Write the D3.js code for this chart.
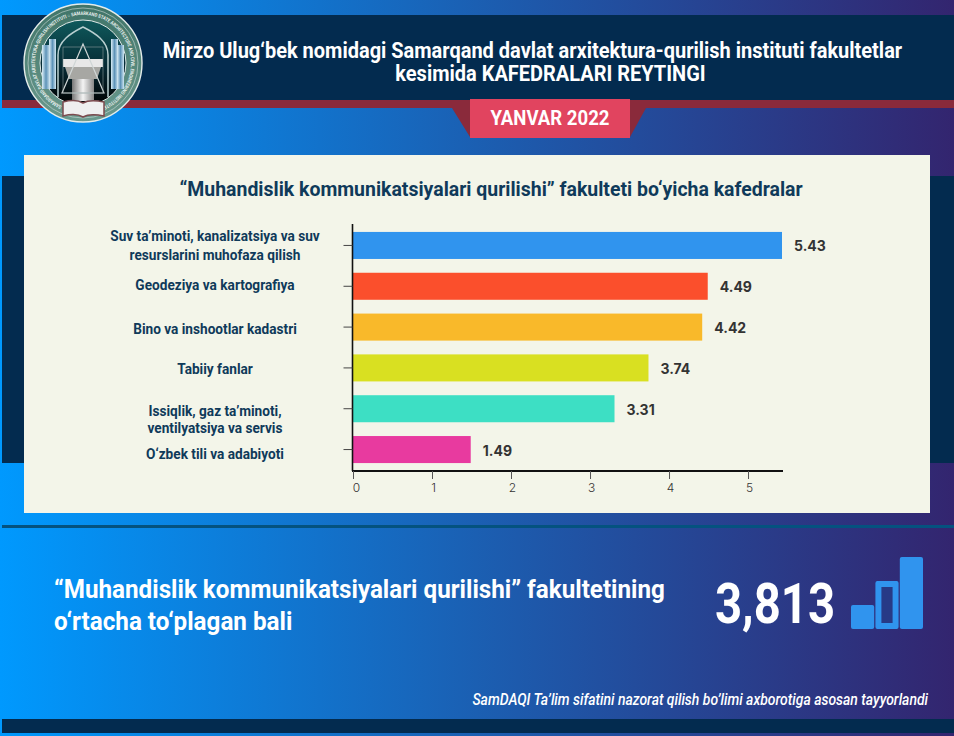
<!DOCTYPE html>
<html><head><meta charset="utf-8">
<script src="https://cdn.jsdelivr.net/npm/d3@7"></script>
<style>html,body{margin:0;padding:0;background:#fff}svg{display:block}</style>
</head><body><div id="c"></div>
<script>
const categories = [
  ["Suv ta\u02bcminoti, kanalizatsiya va suv","resurslarini muhofaza qilish"],
  ["Geodeziya va kartografiya"],
  ["Bino va inshootlar kadastri"],
  ["Tabiiy fanlar"],
  ["Issiqlik, gaz ta\u02bcminoti,","ventilyatsiya va servis"],
  ["O\u2018zbek tili va adabiyoti"]
];
const values = [5.43,4.49,4.42,3.74,3.31,1.49];
const barColors = ["#3094ee","#fb4f2c","#f9b92a","#d9e021","#3ddfc4","#e83a9f"];
const xTicks = [0,1,2,3,4,5];
const miniBars = [1,2,3];
const W=954,H=736;
const svg=d3.select("#c").append("svg").attr("width",W).attr("height",H);
const defs=svg.append("defs");
const g=defs.append("linearGradient").attr("id","bg");
[[0,"#0099fe"],[0.5,"#1b5fb2"],[1,"#33256f"]].forEach(s=>g.append("stop").attr("offset",s[0]).attr("stop-color",s[1]));
const grad=(id,stops,v)=>{const l=defs.append("linearGradient").attr("id",id).attr("x1",0).attr("y1",0).attr("x2",v?0:1).attr("y2",v?1:0);
  stops.forEach(s=>l.append("stop").attr("offset",s[0]).attr("stop-color",s[1]));};
grad("ring",[[0,"#3f7468"],[1,"#6b9a8e"]],true);
grad("inner",[[0,"#0f5a5c"],[0.55,"#062a34"],[1,"#000"]],true);
grad("tower",[[0,"#dbeef6"],[0.5,"#5d93b8"],[1,"#cfe6f2"]]);
grad("col",[[0,"#777"],[0.5,"#f4f4f4"],[1,"#888"]]);
const rect=(x,y,w,h,f,r)=>svg.append("rect").attr("x",x).attr("y",y).attr("width",w).attr("height",h).attr("fill",f).attr("rx",r||0);
function txt(x,y,s,size,weight,fill,cond,anchor,font,style){
  return svg.append("text").attr("transform",`translate(${x},${y}) scale(${cond||1},1)`)
   .attr("font-family",font||"Roboto").attr("font-size",size).attr("font-weight",weight)
   .attr("font-style",style||"normal").attr("fill",fill).attr("text-anchor",anchor||"middle").text(s);
}
// background
rect(0,0,W,H,"url(#bg)");
rect(2,15,W-2,85,"#032b4f");
rect(2,100,W-2,8,"#8a2a3b");
rect(2,176,W-2,287,"#032b4f");
rect(2,719,W-2,14,"#032b4f");
rect(2,525,W-2,3,"#04527f");
// ribbon
svg.append("path").attr("d","M452,108 L470,108 L470,137 Z M646,108 L630,108 L630,137 Z").attr("fill","#8a2a3b");
rect(470,99,160,39,"#e1445f");
txt(550,124.5,"YANVAR 2022",20,700,"#fff",0.93);
// title
txt(532.5,57.5,"Mirzo Ulug\u2018bek nomidagi Samarqand davlat arxitektura-qurilish instituti fakultetlar",21.5,700,"#fff",0.93);
txt(550.5,80.5,"kesimida KAFEDRALARI REYTINGI",21.5,700,"#fff",0.93);
// logo
const L=svg.append("g").attr("transform","translate(83,63)");
L.append("circle").attr("r",59).attr("fill","url(#ring)").attr("stroke","#e4ecea").attr("stroke-width",1.4);
L.append("circle").attr("r",55).attr("fill","none").attr("stroke","#cfdcd8").attr("stroke-width",0.6);
L.append("circle").attr("r",43).attr("fill","url(#inner)").attr("stroke","#dfe8e6").attr("stroke-width",1);
defs.append("path").attr("id","lp").attr("d","M0,48 A48,48 0 1 1 0,-48 A48,48 0 1 1 0,48");
L.append("text").attr("font-family","Roboto").attr("font-size",5).attr("font-weight",700).attr("fill","#e8f0ee")
 .append("textPath").attr("href","#lp").attr("startOffset",22).attr("textLength",258).attr("lengthAdjust","spacingAndGlyphs")
 .text("SAMARQAND DAVLAT ARXITEKTURA-QURILISH INSTITUTI \u25CB SAMARKAND STATE ARCHITECTURE AND CIVIL ENGINEERING INSTITUTE");
[[-41,-18,8,44],[-34,-24,7,50],[28,-24,7,50],[34,-18,7,44]].forEach(d=>L.append("rect").attr("x",d[0]).attr("y",d[1]).attr("width",d[2]).attr("height",d[3]).attr("fill","url(#tower)"));
L.append("path").attr("d","M-25,34 V-8 C-25,-22 -12,-30 0,-36 C12,-30 25,-22 25,-8 V34").attr("fill","none").attr("stroke","#b9cfd0").attr("stroke-width",1.5);
L.append("rect").attr("x",-20).attr("y",-4).attr("width",40).attr("height",8).attr("fill","#e8e8e8");
L.append("path").attr("d","M-18,4 H18 L14,16 H-14 Z").attr("fill","#a7a7a3");
L.append("rect").attr("x",-11).attr("y",16).attr("width",22).attr("height",22).attr("fill","url(#col)");
L.append("path").attr("d","M0,-19 L-21,30 L21,30 Z").attr("fill","none").attr("stroke","#d0d6d6").attr("stroke-width",1.2);
L.append("rect").attr("x",-20).attr("y",-16).attr("width",40).attr("height",46).attr("fill","none").attr("stroke","#8a9a9c").attr("stroke-width",0.6);
L.append("path").attr("d","M-20,39 C-12,37 -5,37 0,40 C5,37 12,37 21,39 V53 C12,51 5,51 0,54 C-5,51 -12,51 -20,53 Z").attr("fill","#efefef").attr("stroke","#7d4a4e").attr("stroke-width",1.5);
// card
rect(24,155,906,358,"#f3f5e9");
txt(491,196,"\u201cMuhandislik kommunikatsiyalari qurilishi\u201d fakulteti bo\u2018yicha kafedralar",21,700,"#0f3a5a",0.927);
// chart
const x=d3.scaleLinear().domain([0,5.43]).range([353,782]);
const y=d3.scaleBand().domain(d3.range(values.length)).range([225,470]).paddingInner(0.338).paddingOuter(0.17);
svg.selectAll(".bar").data(values).join("rect").attr("class","bar")
 .attr("x",x(0)).attr("y",(d,i)=>y(i)).attr("width",d=>x(d)-x(0)).attr("height",y.bandwidth())
 .attr("fill",(d,i)=>barColors[i]);
const xa=svg.append("g").attr("transform","translate(0,471)").call(d3.axisBottom(x).tickValues(xTicks).tickFormat(d3.format("d")).tickSize(8).tickPadding(4));
xa.select(".domain").attr("d","M352,0H783").attr("stroke","#111").attr("stroke-width",2);
xa.selectAll("line").attr("stroke","#555");
xa.selectAll("text").attr("font-family","Inter").attr("font-size",12).attr("font-weight",300).attr("fill","#333").attr("dx",d=>d===0?3:1);
const ya=svg.append("g").attr("transform","translate(352.5,0)").call(d3.axisLeft(y).tickFormat("").tickSize(9));
ya.select(".domain").attr("d","M0,224V471").attr("stroke","#111").attr("stroke-width",1.6);
ya.selectAll("line").attr("stroke","#444");
values.forEach((v,i)=>txt(x(v)+12,y(i)+y.bandwidth()/2+6,v.toFixed(2),14,700,"#333",1,"start","Inter"));
const labelY=[[241,260],[290],[334],[374],[416,433],[459]];
categories.forEach((c,i)=>c.forEach((s,j)=>txt(215,labelY[i][j],s,14.3,700,"#0f3a5a",0.955)));
// footer
txt(54,597.5,"\u201cMuhandislik kommunikatsiyalari qurilishi\u201d fakultetining",25.5,700,"#fff",0.95,"start");
txt(54,629.5,"o\u2018rtacha to\u2018plagan bali",25.5,700,"#fff",0.95,"start");
txt(775,623,"3,813",55,700,"#fff",0.86);
// mini bar icon
const mx=d3.scaleBand().domain(miniBars).range([851,923]).paddingInner(0.05);
const my=d3.scaleLinear().domain([0,3]).range([629,557]);
miniBars.forEach(d=>{
  rect(mx(d),my(d),mx.bandwidth(),my(0)-my(d),"#3094ee",2);
  if(d===2) rect(mx(d)+6,my(d)+6,mx.bandwidth()-12,my(0)-my(d)-12,"#273a86");
});
txt(928,705,"SamDAQI Ta\u2019lim sifatini nazorat qilish bo\u2019limi axborotiga asosan tayyorlandi",16.5,500,"#fff",0.847,"end","Roboto","italic");
</script></body></html>
